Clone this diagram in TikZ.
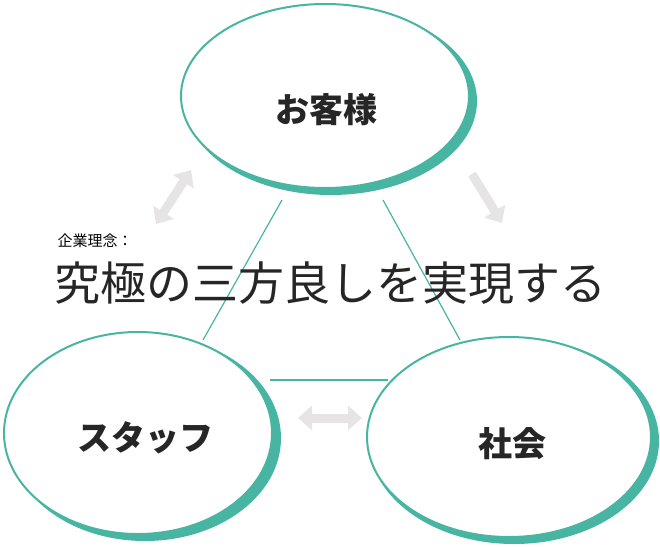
\documentclass[tikz,border=0pt]{standalone}
\usepackage{fontspec}
\newfontfamily\jp{Noto Sans CJK JP}
\usetikzlibrary{arrows.meta}
\definecolor{teal1}{HTML}{48B5A3}
\definecolor{arrowgray}{HTML}{E6E4E4}

\begin{document}
\begin{tikzpicture}[
                x=1pt, y=-1pt,
                rim/.style={fill=teal1},
                circ/.style={draw=teal1, line width=2pt, fill=white},
                label/.style={font=\jp\bfseries\fontsize{34}{34}\selectfont, text=black!85},
                link/.style={draw=teal1, line width=1.2pt},
                garrow/.style={arrowgray, line width=9pt, {Triangle[length=14pt,width=24pt]}-{Triangle[length=14pt,width=24pt]}}
            ]
            \useasboundingbox (0,0) rectangle (660,546);

            % links between the three parties
            \coordinate (t1) at (282,200);
            \coordinate (t2) at (383,200);
            \coordinate (l1) at (203,340);
            \coordinate (r1) at (460,340);
            \coordinate (b1) at (270,380);
            \coordinate (b2) at (388,380);
            \draw[link] (t1) -- (l1);
            \draw[link] (t2) -- (r1);
            \draw[link] (b1) -- (b2);

            % customer
            \fill[rim] (331,101) ellipse [x radius=146, y radius=94];
            \draw[circ] (325,96) ellipse [x radius=144, y radius=92];
            \node[label] (customer) at (326,110) {お客様};

            % staff
            \fill[rim] (145,438) ellipse [x radius=136, y radius=103];
            \draw[circ] (138,433) ellipse [x radius=134, y radius=101];
            \node[label] (staff) at (145,438) {スタッフ};

            % society
            \fill[rim] (514,441) ellipse [x radius=145, y radius=103];
            \draw[circ] (509,437) ellipse [x radius=142, y radius=100];
            \node[label] (society) at (512,444) {社会};

            % arrows
            \coordinate (a1) at (156,224);
            \coordinate (a2) at (191,170);
            \coordinate (a3) at (472,174);
            \coordinate (a4) at (502,223);
            \coordinate (a5) at (298,418);
            \coordinate (a6) at (362,418);
            \draw[garrow] (a1) -- (a2);
            \draw[garrow, {Triangle[length=14pt,width=24pt]}-] (a4) -- (a3);
            \draw[garrow] (a5) -- (a6);

            % philosophy
            \node[font=\jp\fontsize{15}{15}\selectfont, anchor=west] (motto) at (54,241) {企業理念：};
            \node[font=\jp\fontsize{46}{46}\selectfont, text=black!85] (vision) at (330,283) {究極の三方良しを実現する};
        \end{tikzpicture}
\end{document}
